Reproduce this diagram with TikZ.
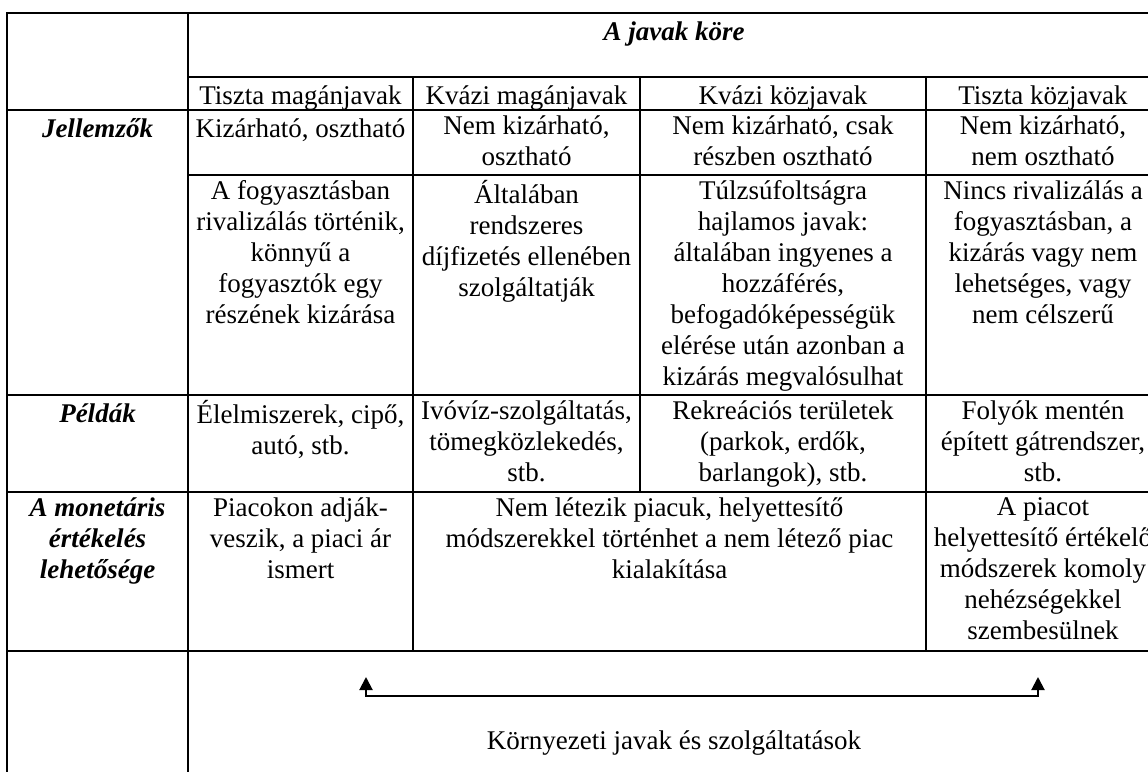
\documentclass[tikz,border=0pt]{standalone}
\usepackage{fontspec}
\setmainfont{Liberation Serif}
\usetikzlibrary{arrows.meta}

\begin{document}
\begin{tikzpicture}[x=0.5pt,y=-0.5pt,
    cell/.style={anchor=north,align=center,inner sep=0pt,
      font=\fontsize{13.5}{15.5}\selectfont,execute at begin node=\strut},
    rowhead/.style={cell,font=\fontsize{13.5}{15.5}\selectfont\bfseries\itshape},
    rule/.style={line width=1.2pt,line cap=rect},
    flow/.style={line width=1pt,{Triangle[width=6.5pt,length=6.5pt]}-{Triangle[width=6.5pt,length=6.5pt]}}]
  \clip (0,0) rectangle (1148,772);
  \begin{scope}[every path/.style={rule}]
    \draw (7,13) -- (1160,13);
    \draw (7,13) -- (7,790);
    \draw (188,13) -- (188,790);
    \draw (188,77) -- (1160,77);
    \draw (188,175) -- (1160,175);
    \foreach \y in {110,395,492,651}
      \draw (7,\y) -- (1160,\y);
    \draw (413,77) -- (413,651);
    \draw (640,77) -- (640,492);
    \draw (926,77) -- (926,651);
  \end{scope}
  \begin{scope}[every node/.style={rowhead}]
    \node (kore) at (674,18) {A javak köre};
    \node (jell) at (97.5,115) {Jellemzők};
    \node (pelda) at (97.5,400) {Példák};
    \node (monet) at (97.5,497) {A monetáris\\értékelés\\lehetősége};
  \end{scope}
  \begin{scope}[every node/.style={cell}]
    \node (TM) at (300.5,82) {Tiszta magánjavak};
    \node (KM) at (526.5,82) {Kvázi magánjavak};
    \node (KK) at (783,82) {Kvázi közjavak};
    \node (TK) at (1043,82) {Tiszta közjavak};
    \node (TMa) at (300.5,115) {Kizárható, osztható};
    \node (KMa) at (526.5,115) {Nem kizárható,\\osztható};
    \node (KKa) at (783,115) {Nem kizárható, csak\\részben osztható};
    \node (TKa) at (1043,115) {Nem kizárható,\\nem osztható};
    \node (TMb) at (300.5,180) {A fogyasztásban\\rivalizálás történik,\\könnyű a\\fogyasztók egy\\részének kizárása};
    \node (KMb) at (526.5,180) {Általában\\rendszeres\\díjfizetés ellenében\\szolgáltatják};
    \node (KKb) at (783,180) {Túlzsúfoltságra\\hajlamos javak:\\általában ingyenes a\\hozzáférés,\\befogadóképességük\\elérése után azonban a\\kizárás megvalósulhat};
    \node (TKb) at (1043,180) {Nincs rivalizálás a\\fogyasztásban, a\\kizárás vagy nem\\lehetséges, vagy\\nem célszerű};
    \node (TMc) at (300.5,400) {Élelmiszerek, cipő,\\autó, stb.};
    \node (KMc) at (526.5,400) {Ivóvíz-szolgáltatás,\\tömegközlekedés,\\stb.};
    \node (KKc) at (783,400) {Rekreációs területek\\(parkok, erdők,\\barlangok), stb.};
    \node (TKc) at (1043,400) {Folyók mentén\\épített gátrendszer,\\stb.};
    \node (TMd) at (300.5,497) {Piacokon adják-\\veszik, a piaci ár\\ismert};
    \node (KVd) at (669.5,497) {Nem létezik piacuk, helyettesítő\\módszerekkel történhet a nem létező piac\\kialakítása};
    \node (TKd) at (1043,497) {A piacot\\helyettesítő értékelő\\módszerek komoly\\nehézségekkel\\szembesülnek};
    \node (env) at (674,727) {Környezeti javak és szolgáltatások};
  \end{scope}
  \coordinate (envL) at (366,677);
  \coordinate (envR) at (1038,677);
  \draw[flow] (envL) -- ++(0,19) -| (envR);
\end{tikzpicture}
\end{document}
